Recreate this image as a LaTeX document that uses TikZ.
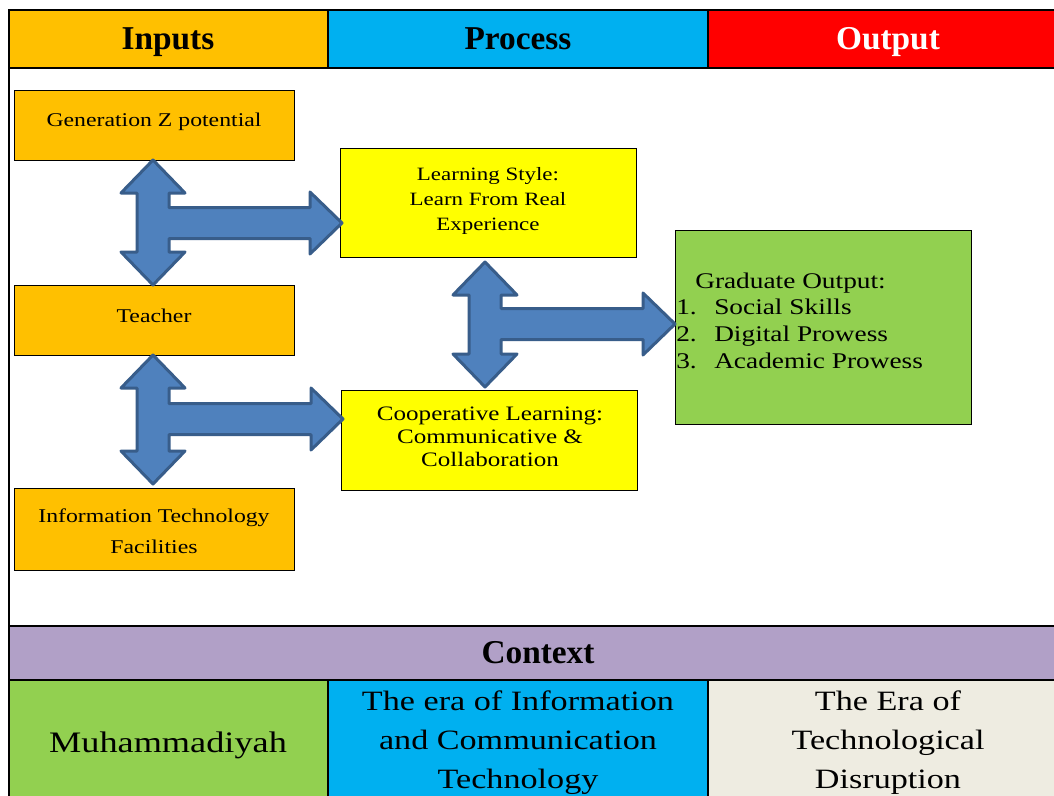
\documentclass[tikz,border=0pt]{standalone}
\usepackage{fontspec}
\setmainfont[FakeStretch=1.22]{Liberation Serif}
\newfontfamily\hdrfont{Liberation Serif}
\definecolor{inorange}{HTML}{FFC000}
\definecolor{procblue}{HTML}{00B0F0}
\definecolor{outred}{HTML}{FF0000}
\definecolor{boxyellow}{HTML}{FFFF00}
\definecolor{leafgreen}{HTML}{92D050}
\definecolor{ctxpurple}{HTML}{B1A0C7}
\definecolor{paperbeige}{HTML}{EEECE1}
\definecolor{arrowfill}{HTML}{4F81BD}
\definecolor{arrowline}{HTML}{385D8A}
% stacked centred lines whose first baseline is the node's base
\newcommand{\stack}[1]{\begin{tabular}[t]{@{}c@{}}#1\end{tabular}}
% T-shaped block arrow: #1 shaft x, #2 top tip y, #3 bottom tip y, #4 right tip x, #5 arm y
\newcommand{\teearrow}[5]{%
  \draw[blockarrow] (#1,#2) -- ({#1+32},{#2+33}) -- ({#1+16},{#2+33})
    -- ({#1+16},{#5-15.5}) -- ({#4-32},{#5-15.5}) -- ({#4-32},{#5-31})
    -- (#4,#5) -- ({#4-32},{#5+31}) -- ({#4-32},{#5+15.5})
    -- ({#1+16},{#5+15.5}) -- ({#1+16},{#3-33}) -- ({#1+32},{#3-33})
    -- (#1,#3) -- ({#1-32},{#3-33}) -- ({#1-16},{#3-33})
    -- ({#1-16},{#2+33}) -- ({#1-32},{#2+33}) -- cycle;}
\begin{document}
\begin{tikzpicture}[x=0.75pt,y=-0.75pt,
  cell/.style={draw=black,line width=1.5pt},
  hdrtext/.style={anchor=base,inner sep=0pt,font=\hdrfont\fontsize{25}{28}\selectfont\bfseries},
  box/.style={draw=black,line width=0.75pt,inner sep=0pt},
  inbox/.style={box,fill=inorange,minimum width=210pt},
  procbox/.style={box,fill=boxyellow,minimum width=222pt},
  boxtext/.style={anchor=base,inner sep=0pt,font=\fontsize{14.6}{23.25}\selectfont},
  ctxtext/.style={anchor=base,inner sep=0pt,font=\fontsize{21}{29.6}\selectfont},
  blockarrow/.style={fill=arrowfill,draw=arrowline,line width=2.25pt,line join=round}]
\useasboundingbox (0,0) rectangle (1054,796);
\clip (0,0) rectangle (1054,796);
\fill[white] (0,0) rectangle (1054,796);
% header row
\filldraw[cell,fill=inorange] (9,10) rectangle (328,68);
\filldraw[cell,fill=procblue] (328,10) rectangle (708,68);
\filldraw[cell,fill=outred] (708,10) rectangle (1060,68);
\node[hdrtext] (inputs) at (168,50) {Inputs};
\node[hdrtext] (process) at (518,50) {Process};
\node[hdrtext,text=white] (output) at (888,50) {Output};
% main area frame
\draw[cell] (9,68) -- (9,626);
% context rows
\filldraw[cell,fill=ctxpurple] (9,626) rectangle (1060,680);
\filldraw[cell,fill=leafgreen] (9,680) rectangle (328,800);
\filldraw[cell,fill=procblue] (328,680) rectangle (708,800);
\filldraw[cell,fill=paperbeige] (708,680) rectangle (1060,800);
\node[hdrtext] (context) at (538,663) {Context};
\node[ctxtext,font=\fontsize{22.3}{29.6}\selectfont] (muh) at (168,752) {Muhammadiyah};
\node[ctxtext] (ict) at (518,710) {\stack{The era of Information\\and Communication\\Technology}};
\node[ctxtext] (disr) at (888,710) {\stack{The Era of\\Technological\\Disruption}};
% input boxes
\node[inbox,minimum height=52.5pt] (genz) at (154,125) {};
\node[inbox,minimum height=52.5pt] (teacher) at (154,320) {};
\node[inbox,minimum height=61.5pt] (itf) at (154,529) {};
\node[boxtext] (genzlabel) at (154,126) {Generation Z potential};
\node[boxtext] (teacherlabel) at (154,322) {Teacher};
\node[boxtext] (itflabel) at (154,522) {\stack{Information Technology\\Facilities}};
% process boxes
\node[procbox,minimum height=81.75pt] (style) at (488,202.5) {};
\node[procbox,minimum height=75pt] (coop) at (489.5,440) {};
\node[boxtext,font=\fontsize{14.1}{18.75}\selectfont] (stylelabel) at (488,180)
  {\stack{Learning Style:\\Learn From Real\\Experience}};
\node[boxtext,font=\fontsize{15.4}{17.6}\selectfont] (cooplabel) at (490,420)
  {\stack{Cooperative Learning:\\Communicative \&\\Collaboration}};
% output box
\node[box,fill=leafgreen,minimum width=222pt,minimum height=145.5pt] (grad) at (823,327) {};
\node[anchor=base west,inner sep=0pt,font=\fontsize{16.8}{20}\selectfont] (gradlabel) at (676,288)
  {\begin{tabular}[t]{@{}l@{}}
   \hspace*{14.25pt}Graduate Output:\\
   \makebox[28.5pt][l]{1.}Social Skills\\
   \makebox[28.5pt][l]{2.}Digital Prowess\\
   \makebox[28.5pt][l]{3.}Academic Prowess
   \end{tabular}};
% block arrows
\teearrow{153}{160}{285}{342}{223}
\teearrow{153}{355}{484}{343}{419}
\teearrow{485}{262}{387}{675}{324}
\end{tikzpicture}
\end{document}
